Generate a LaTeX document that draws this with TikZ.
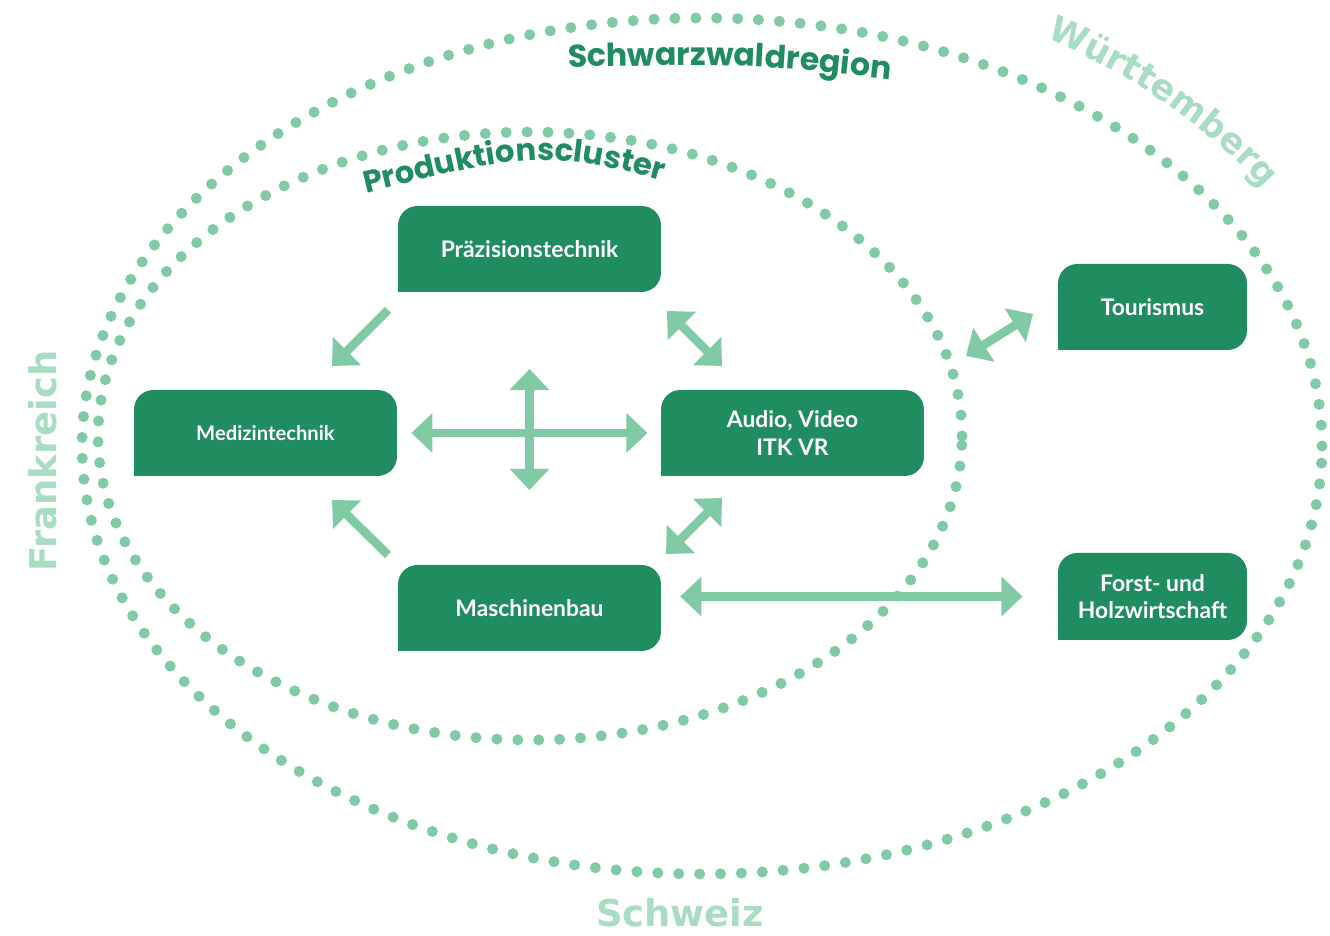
\documentclass[tikz,border=0pt]{standalone}
\usepackage{fontspec}
\setmainfont{Lato}
\newfontfamily\heavyfont{DejaVu Sans}
\newfontfamily\arcfont{Poppins}
\usepackage{xcolor}
\usetikzlibrary{arrows.meta, decorations.text}
\definecolor{boxgreen}{RGB}{32,141,96}
\definecolor{dotgreen}{RGB}{128,203,166}
\definecolor{landgreen}{RGB}{168,221,194}

\begin{document}
\begin{tikzpicture}[x=0.02cm, y=0.02cm,
  box/.style={fill=boxgreen, rounded corners=11pt, text=white, align=center,
    minimum width=5.26cm, minimum height=1.72cm, inner sep=0pt,
    font=\bfseries\fontsize{13}{15.5}\selectfont},
  dotring/.style={dotgreen, line width=6.3pt, line cap=round, dash pattern=on 0pt off 11.9pt},
  flow/.style={dotgreen, line width=5pt, -{Triangle[length=12pt, width=22pt]}},
  biflow/.style={flow, {Triangle[length=12pt, width=22pt]}-{Triangle[length=12pt, width=22pt]}},
  land/.style={landgreen, font=\heavyfont\bfseries\fontsize{21}{24}\selectfont, inner sep=0pt}]
  \useasboundingbox (0,0) rectangle (1330,936);

  % Regions
  \draw[dotring] (702,490) ellipse [x radius=620, y radius=428];
  \draw[dotring] (530,500) ellipse [x radius=432, y radius=304];

  % Sectors
  \node[box] (prae) at (529.5,687) {Präzisionstechnik};
  \node[box, font=\bfseries\fontsize{11.5}{14}\selectfont] (medi) at (265.5,503) {Medizintechnik};
  \node[box] (audio) at (792.5,503) {Audio, Video\\ITK VR};
  \node[box] (masch) at (529.5,328) {Maschinenbau};
  \node[box, minimum width=3.78cm] (tour) at (1152.5,629) {Tourismus};
  \node[box, minimum width=3.78cm, minimum height=1.74cm] (forst) at (1152.5,339.5) {Forst- und\\Holzwirtschaft};
  \foreach \n in {prae, medi, audio, masch, tour, forst}
    \fill[boxgreen] (\n.south west) rectangle ++(20,20);

  % Links between sectors
  \coordinate (pm-a) at (388,626);   \coordinate (pm-b) at (332,570);
  \coordinate (pa-a) at (667,625);   \coordinate (pa-b) at (722,570);
  \coordinate (mm-a) at (388,381);   \coordinate (mm-b) at (332,436);
  \coordinate (ma-a) at (666,382);   \coordinate (ma-b) at (722,438);
  \coordinate (up) at (529.5,567);   \coordinate (down) at (529.5,446);
  \coordinate (tr-a) at (966,580);   \coordinate (tr-b) at (1033,622);
  \draw[flow] (pm-a) -- (pm-b);
  \draw[biflow] (pa-a) -- (pa-b);
  \draw[flow] (mm-a) -- (mm-b);
  \draw[biflow] (ma-a) -- (ma-b);
  \draw[biflow, shorten <=8pt, shorten >=7.5pt] (medi.east) -- (audio.west);
  \draw[biflow] (up) -- (down);
  \draw[biflow] (tr-a) -- (tr-b);
  \draw[biflow, shorten <=10.8pt, shorten >=20pt] (masch.east |- forst.west) -- (forst.west);

  % Curved titles
  \path[decorate, decoration={text along path, text color=boxgreen,
      text={|\arcfont\bfseries\fontsize{18}{20}\selectfont|Schwarzwaldregion}}]
    (568,868.8) .. controls (754,872.4) .. (940,850.7);
  \path[decorate, decoration={text along path, text color=boxgreen,
      text={|\arcfont\bfseries\fontsize{17.5}{20}\selectfont|Produktionscluster}}]
    (366,742.95) .. controls (550,787.96) .. (734,734.4);
  \path[decorate, decoration={text along path, text color=landgreen,
      text={|\heavyfont\bfseries\fontsize{20}{24}\selectfont|Württemberg}}]
    (702,490) ++(59:668 and 476) arc [start angle=59, end angle=5, x radius=668, y radius=476];

  % Neighbours
  \node[land, rotate=90, anchor=base] (fr) at (56,475) {Frankreich};
  \node[land, anchor=base] (ch) at (680,9) {Schweiz};
\end{tikzpicture}
\end{document}
